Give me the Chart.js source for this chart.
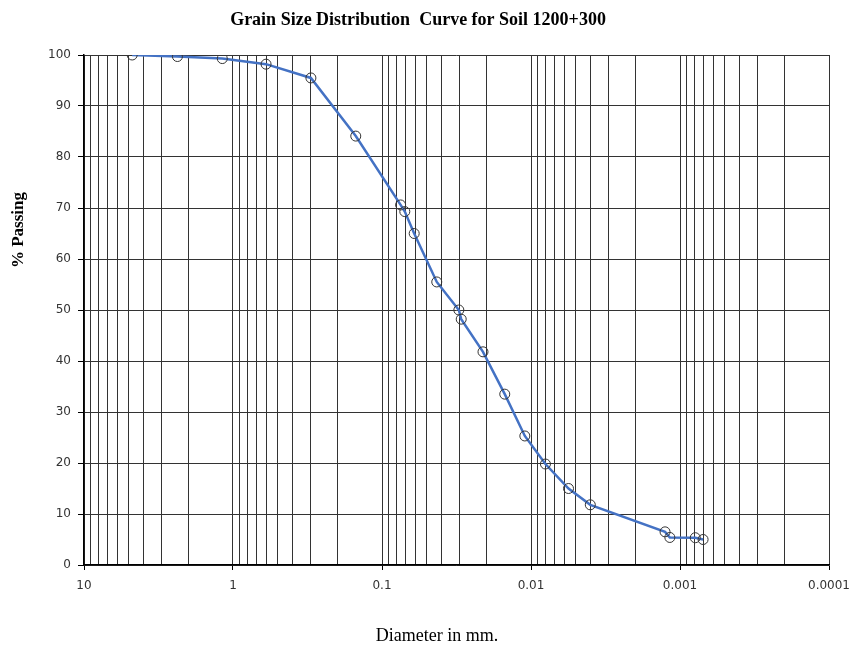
<!DOCTYPE html>
<html>
<head>
<meta charset="utf-8">
<script src="https://cdn.jsdelivr.net/npm/chart.js@4"></script>
<style>
  html,body{margin:0;padding:0;background:#fff;}
  #wrap{width:853px;height:647px;}
</style>
</head>
<body>
<div id="wrap"><canvas id="gsd" width="853" height="647"></canvas></div>
<script>
// sieve + hydrometer readings (diameter mm, % passing)
const diameters=[4.75,2.36,1.18,0.6,0.3,0.15,0.075,0.0703,0.0608,0.0429,0.0305,0.0294,0.021,0.015,0.011,0.008,0.0056,0.0040,0.00126,0.00117,0.00079,0.00070];
const passing=[100,99.7,99.3,98.2,95.5,84.1,70.6,69.3,65.0,55.5,50.0,48.2,41.8,33.5,25.3,19.8,15.0,11.8,6.5,5.4,5.35,5.0];

// log grid lines 1..9 per decade, labels only on decades
const decades=[10,1,0.1,0.01,0.001,0.0001];
const xGrid=[];
for(let e=-4;e<=0;e++){
  for(let m=1;m<=9;m++) xGrid.push(+(m*Math.pow(10,e)).toPrecision(3));
}
xGrid.push(10);

const TITLE="Grain Size Distribution  Curve for Soil 1200+300";
const Y_TITLE="% Passing";
const X_TITLE="Diameter in mm.";

const isDecade=v=>decades.some(d=>Math.abs(v-d)/d<1e-6);

const textPlugin={
  id:"texts",
  afterDraw(chart){
    const ctx=chart.ctx;
    ctx.save();
    ctx.fillStyle="#000";
    ctx.textAlign="center";
    ctx.textBaseline="middle";
    ctx.font="bold 18px 'Liberation Serif'";
    ctx.fillText(TITLE,418,20);
    ctx.font="18px 'Liberation Serif'";
    ctx.fillText(X_TITLE,437,636);
    ctx.translate(19,230);
    ctx.rotate(-Math.PI/2);
    ctx.font="bold 17px 'Liberation Serif'";
    ctx.fillText(Y_TITLE,0,0);
    ctx.restore();
  }
};

new Chart(document.getElementById("gsd"),{
  type:"line",
  data:{
    datasets:[{
      data:diameters.map((d,i)=>({x:d,y:passing[i]})),
      borderColor:"#4472C4",
      borderWidth:2.5,
      pointRadius:5,
      pointBorderColor:"#333",
      pointBorderWidth:1,
      pointBackgroundColor:"rgba(0,0,0,0)",
      tension:0,
      fill:false
    }]
  },
  options:{
    responsive:false,
    animation:false,
    layout:{padding:{top:55,right:24,left:0,bottom:0}},
    plugins:{legend:{display:false},tooltip:{enabled:false},title:{display:false}},
    scales:{
      x:{
        type:"logarithmic",
        reverse:true,
        min:0.0001,
        max:10,
        afterBuildTicks:s=>{s.ticks=xGrid.map(v=>({value:v}));},
        afterFit:s=>{s.height=82;},
        ticks:{
          autoSkip:false,
          maxRotation:0,
          padding:9,
          color:"#333",
          font:{family:"'DejaVu Sans'",size:12},
          callback:v=>isDecade(v)?String(v):""
        },
        grid:{
          color:"#333",
          lineWidth:1,
          tickLength:5,
          tickColor:c=>c.tick&&isDecade(c.tick.value)?"#000":"rgba(0,0,0,0)"
        },
        border:{color:"#000",width:1.5}
      },
      y:{
        min:0,
        max:100,
        afterFit:s=>{s.width=84;},
        ticks:{
          stepSize:10,
          padding:7,
          color:"#333",
          font:{family:"'DejaVu Sans'",size:12}
        },
        grid:{color:"#333",lineWidth:1,tickLength:6,tickColor:"#000"},
        border:{color:"#000",width:1.5}
      }
    }
  },
  plugins:[textPlugin]
});
</script>
</body>
</html>
